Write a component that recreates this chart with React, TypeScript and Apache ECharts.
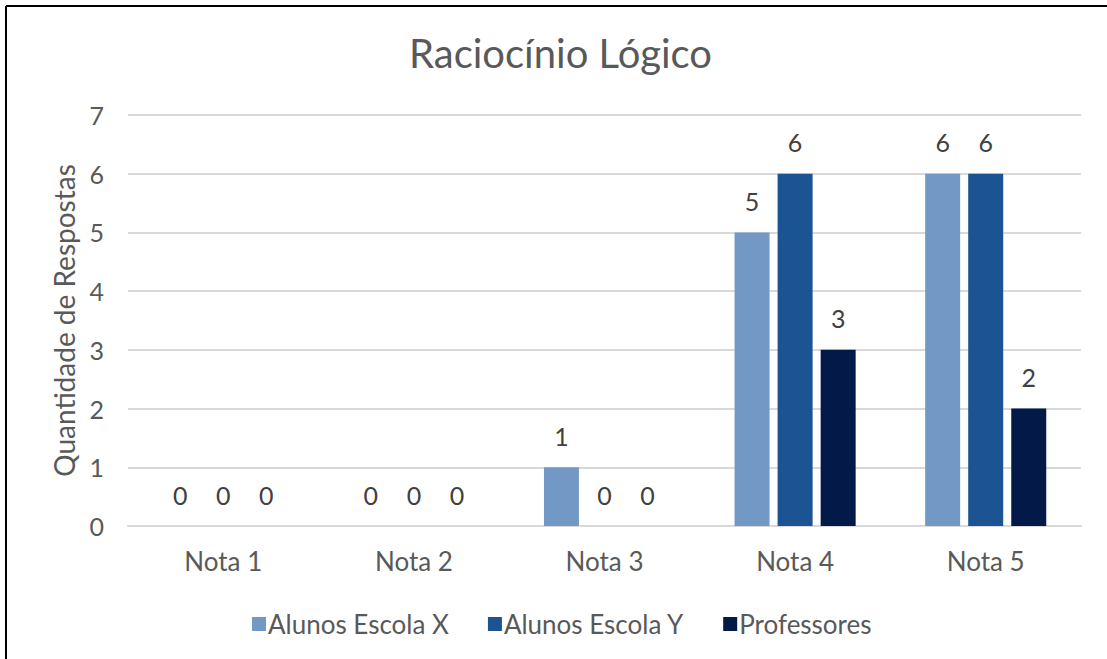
import React, { useEffect, useRef } from "react";
import * as echarts from "echarts";

const categories = ["Nota 1", "Nota 2", "Nota 3", "Nota 4", "Nota 5"];
const seriesNames = ["Alunos Escola X", "Alunos Escola Y", "Professores"];
const alunosX = [0, 0, 1, 5, 6];
const alunosY = [0, 0, 0, 6, 6];
const professores = [0, 0, 0, 3, 2];
const colors = ["#7299c6", "#1b5393", "#031a48"];

const FONT = "Lato";
const TXT = "#595959";

export default function App() {
  const ref = useRef<HTMLDivElement>(null);
  useEffect(() => {
    if (!ref.current) return;
    const chart = echarts.init(ref.current, undefined, { renderer: "svg" });
    const values = [alunosX, alunosY, professores];
    chart.setOption({
      animation: false,
      backgroundColor: "#ffffff",
      textStyle: { fontFamily: FONT },
      title: {
        text: "Raciocínio Lógico",
        left: 404,
        top: 28,
        textStyle: { fontFamily: FONT, fontSize: 40, fontWeight: "normal", color: TXT },
      },
      legend: {
        data: seriesNames,
        left: 247,
        top: 606,
        icon: "rect",
        itemWidth: 14,
        itemHeight: 14,
        itemGap: 39,
        textStyle: { fontFamily: FONT, fontSize: 26, color: TXT, padding: [0, 0, 0, -3] },
      },
      grid: { left: 128, right: 26, top: 115, bottom: 133, containLabel: false },
      xAxis: {
        type: "category",
        data: categories,
        axisLine: { show: true, lineStyle: { color: "#d9d9d9", width: 2 } },
        axisTick: { show: false },
        axisLabel: { fontFamily: FONT, fontSize: 26, color: TXT, margin: 22 },
      },
      yAxis: {
        type: "value",
        min: 0,
        max: 7,
        interval: 1,
        name: "Quantidade de Respostas",
        nameLocation: "middle",
        nameGap: 50,
        nameTextStyle: { fontFamily: FONT, fontSize: 28, color: TXT },
        axisLine: { show: false },
        axisTick: { show: false },
        axisLabel: { fontFamily: FONT, fontSize: 25, color: TXT, margin: 24 },
        splitLine: { lineStyle: { color: "#d9d9d9", width: 2 } },
      },
      series: seriesNames.map((name, i) => ({
        name,
        type: "bar",
        data: values[i],
        barWidth: 35,
        barGap: "23%",
        itemStyle: { color: colors[i] },
        label: {
          show: true,
          position: "top",
          distance: 19,
          fontFamily: FONT,
          fontSize: 25,
          color: "#404040",
        },
      })),
      graphic: [
        { type: "line", shape: { x1: 6, y1: 6, x2: 1107, y2: 6 }, style: { stroke: "#000", lineWidth: 2 } },
        { type: "line", shape: { x1: 6, y1: 6, x2: 6, y2: 659 }, style: { stroke: "#000", lineWidth: 2 } },
      ],
    });
    return () => chart.dispose();
  }, []);
  return <div ref={ref} style={{ width: 1107, height: 659, position: "absolute", left: 0, top: 0 }} />;
}
